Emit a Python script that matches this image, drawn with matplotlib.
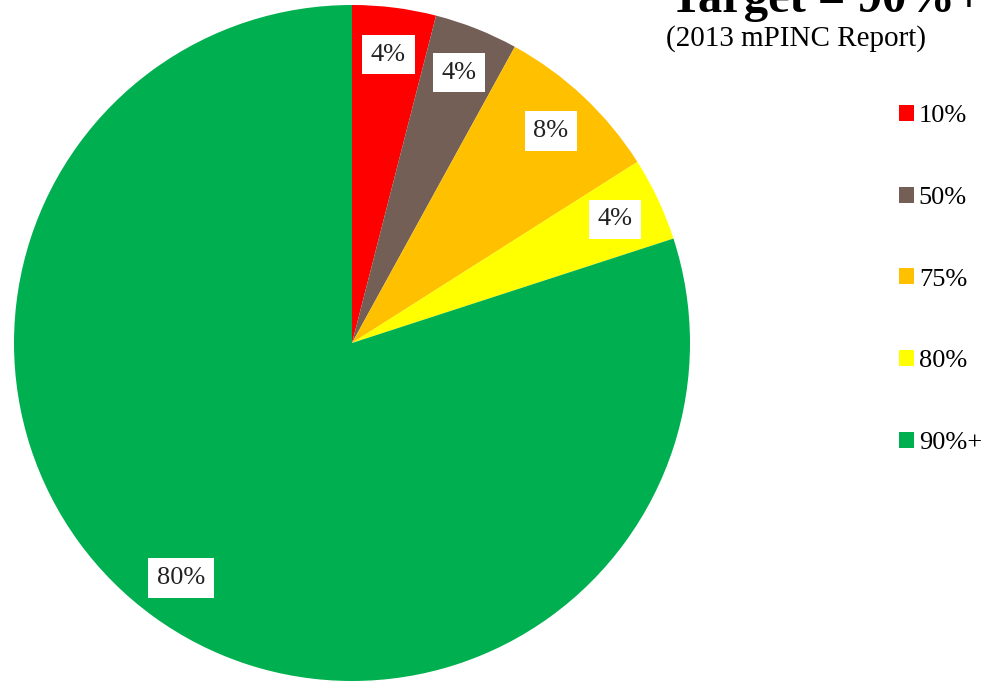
import matplotlib.pyplot as plt

# share of hospitals by score band
bands = ['10%', '50%', '75%', '80%', '90%+']
shares = [4, 4, 8, 4, 80]
colors = ['#FF0000', '#735F55', '#FFC000', '#FFFF00', '#00B050']

plt.rcParams['font.family'] = ['Liberation Serif', 'DejaVu Serif']

fig = plt.figure(figsize=(9.86, 6.82), dpi=100)
ax = fig.add_axes([14 / 986, 1 / 682, 676 / 986, 676 / 682])

wedges, texts = ax.pie(shares, colors=colors, startangle=90, counterclock=False,
                       radius=1, labels=[f'{v}%' for v in shares],
                       labeldistance=0.86,
                       textprops=dict(fontsize=19, color='#222222'),
                       wedgeprops=dict(linewidth=0))
for t in texts:
    t.set_ha('center')
    t.set_va('center')
    t.set_bbox(dict(boxstyle='square,pad=0.33', facecolor='white', edgecolor='none'))
ax.set_xlim(-1, 1)
ax.set_ylim(-1, 1)
ax.set_aspect('equal')

fig.text(826 / 986, 1 - 12 / 682, 'Target = 90%+', ha='center', va='baseline',
         fontsize=35, fontweight='bold', color='black')
fig.text(796 / 986, 1 - 46 / 682, '(2013 mPINC Report)', ha='center', va='baseline',
         fontsize=21, color='black')

fig.legend(wedges, bands, loc='upper left', bbox_to_anchor=(899 / 986, 1 - 105 / 682),
           frameon=False, fontsize=19, handlelength=0.55, handleheight=0.55,
           handletextpad=0.2, labelspacing=2.25, borderpad=0, borderaxespad=0)

fig.savefig('out.png', dpi=100)
